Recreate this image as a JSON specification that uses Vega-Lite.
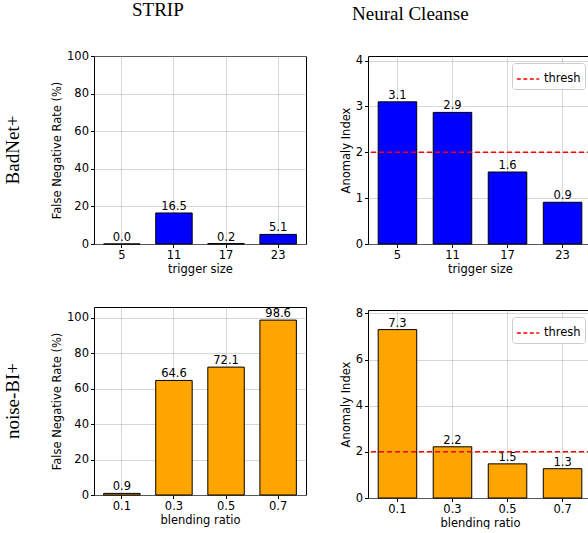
{
  "$schema": "https://vega.github.io/schema/vega-lite/v6.json",
  "padding": {"left": 3, "top": 0, "right": 0, "bottom": 0},
  "background": "white",
  "config": {
    "font": "DejaVu Sans",
    "view": {"stroke": "black", "strokeWidth": 1},
    "axis": {"labelFont": "DejaVu Sans", "labelFontSize": 11.5, "labelColor": "black", "titleFont": "DejaVu Sans", "titleFontSize": 11.5, "titleFontWeight": "normal", "titleColor": "black", "tickColor": "black", "tickSize": 3.5, "domain": false, "gridColor": "#b0b0b0", "gridOpacity": 0.5, "labelPadding": 2, "zindex": 1},
    "axisX": {"labelAngle": 0, "bandPosition": 0.5, "titlePadding": 2},
    "axisY": {"titlePadding": 4},
    "title": {"font": "Liberation Serif", "fontSize": 19, "fontWeight": "normal", "color": "black"},
    "legend": {"labelFont": "DejaVu Sans", "labelFontSize": 11.5, "labelColor": "black"}
  },
  "datasets": {
    "tl": [{"x": "5", "v": 0.0}, {"x": "11", "v": 16.5}, {"x": "17", "v": 0.2}, {"x": "23", "v": 5.1}],
    "tr": [{"x": "5", "v": 3.1}, {"x": "11", "v": 2.87}, {"x": "17", "v": 1.57}, {"x": "23", "v": 0.91}],
    "bl": [{"x": "0.1", "v": 0.9}, {"x": "0.3", "v": 64.6}, {"x": "0.5", "v": 72.1}, {"x": "0.7", "v": 98.6}],
    "br": [{"x": "0.1", "v": 7.3}, {"x": "0.3", "v": 2.22}, {"x": "0.5", "v": 1.48}, {"x": "0.7", "v": 1.27}],
    "th": [{"v": 2, "label": "thresh"}]
  },
  "resolve": {"scale": {"color": "independent"}, "legend": {"color": "independent"}},
  "spacing": 32,
  "hconcat": [
    {
      "title": {"text": "STRIP", "anchor": "start", "frame": "group", "dx": 38, "offset": 30},
      "spacing": 31,
      "resolve": {"scale": {"color": "independent"}, "legend": {"color": "independent"}},
      "vconcat": [
        {
          "width": 212, "height": 188,
          "title": {"text": "BadNet+", "orient": "left", "anchor": "middle", "frame": "group", "offset": 29},
          "data": {"name": "tl"},
          "encoding": {
            "x": {"field": "x", "type": "nominal", "sort": null, "scale": {"type": "band", "paddingInner": 0.3, "paddingOuter": 0.185}, "axis": {"title": "trigger size", "grid": true}},
            "y": {"field": "v", "type": "quantitative", "scale": {"domain": [0, 100], "nice": false}, "axis": {"title": "False Negative Rate (%)", "values": [0, 20, 40, 60, 80, 100], "grid": true}}
          },
          "layer": [
            {"mark": {"type": "bar", "color": "#0000ff", "stroke": "black", "strokeWidth": 1}},
            {"mark": {"type": "text", "baseline": "bottom", "dy": -1, "fontSize": 11.5, "color": "black"}, "encoding": {"text": {"field": "v", "type": "quantitative", "format": ".1f"}}}
          ]
        },
        {
          "width": 212, "height": 188,
          "title": {"text": "noise-BI+", "orient": "left", "anchor": "middle", "frame": "group", "offset": 29},
          "data": {"name": "bl"},
          "encoding": {
            "x": {"field": "x", "type": "nominal", "sort": null, "scale": {"type": "band", "paddingInner": 0.3, "paddingOuter": 0.185}, "axis": {"title": "blending ratio", "grid": true}},
            "y": {"field": "v", "type": "quantitative", "scale": {"domain": [0, 106], "nice": false}, "axis": {"title": "False Negative Rate (%)", "values": [0, 20, 40, 60, 80, 100], "grid": true}}
          },
          "layer": [
            {"mark": {"type": "bar", "color": "#ffa500", "stroke": "black", "strokeWidth": 1}},
            {"mark": {"type": "text", "baseline": "bottom", "dy": -1, "fontSize": 11.5, "color": "black"}, "encoding": {"text": {"field": "v", "type": "quantitative", "format": ".1f"}}}
          ]
        }
      ]
    },
    {
      "title": {"text": "Neural Cleanse", "anchor": "start", "frame": "group", "dx": -16, "offset": 30},
      "spacing": 31,
      "resolve": {"scale": {"color": "independent"}, "legend": {"color": "independent"}},
      "vconcat": [
        {
          "width": 224, "height": 188,
          "layer": [
            {
              "data": {"name": "tr"},
              "encoding": {
                "x": {"field": "x", "type": "nominal", "sort": null, "scale": {"type": "band", "paddingInner": 0.3, "paddingOuter": 0.185}, "axis": {"title": "trigger size", "grid": true}},
                "y": {"field": "v", "type": "quantitative", "scale": {"domain": [0, 4.1], "nice": false}, "axis": {"title": "Anomaly Index", "values": [0, 1, 2, 3, 4], "grid": true}}
              },
              "layer": [
                {"mark": {"type": "bar", "color": "#0000ff", "stroke": "black", "strokeWidth": 1}},
                {"mark": {"type": "text", "baseline": "bottom", "dy": -1, "fontSize": 11.5, "color": "black"}, "encoding": {"text": {"field": "v", "type": "quantitative", "format": ".1f"}}}
              ]
            },
            {
              "data": {"name": "th"},
              "mark": {"type": "rule", "strokeDash": [5, 3], "strokeWidth": 1.5},
              "encoding": {
                "y": {"field": "v", "type": "quantitative"},
                "color": {"field": "label", "type": "nominal", "scale": {"domain": ["thresh"], "range": ["red"]}, "legend": {"title": null, "orient": "top-right", "offset": 7, "symbolType": "stroke", "symbolStrokeWidth": 1.5, "symbolDash": [4, 2.5], "symbolSize": 500, "fillColor": "white", "strokeColor": "#cccccc", "cornerRadius": 3, "padding": 4}}
              }
            }
          ]
        },
        {
          "width": 224, "height": 188,
          "layer": [
            {
              "data": {"name": "br"},
              "encoding": {
                "x": {"field": "x", "type": "nominal", "sort": null, "scale": {"type": "band", "paddingInner": 0.3, "paddingOuter": 0.185}, "axis": {"title": "blending ratio", "grid": true}},
                "y": {"field": "v", "type": "quantitative", "scale": {"domain": [0, 8.15], "nice": false}, "axis": {"title": "Anomaly Index", "values": [0, 2, 4, 6, 8], "grid": true}}
              },
              "layer": [
                {"mark": {"type": "bar", "color": "#ffa500", "stroke": "black", "strokeWidth": 1}},
                {"mark": {"type": "text", "baseline": "bottom", "dy": -1, "fontSize": 11.5, "color": "black"}, "encoding": {"text": {"field": "v", "type": "quantitative", "format": ".1f"}}}
              ]
            },
            {
              "data": {"name": "th"},
              "mark": {"type": "rule", "strokeDash": [5, 3], "strokeWidth": 1.5},
              "encoding": {
                "y": {"field": "v", "type": "quantitative"},
                "color": {"field": "label", "type": "nominal", "scale": {"domain": ["thresh"], "range": ["red"]}, "legend": {"title": null, "orient": "top-right", "offset": 7, "symbolType": "stroke", "symbolStrokeWidth": 1.5, "symbolDash": [4, 2.5], "symbolSize": 500, "fillColor": "white", "strokeColor": "#cccccc", "cornerRadius": 3, "padding": 4}}
              }
            }
          ]
        }
      ]
    }
  ]
}
